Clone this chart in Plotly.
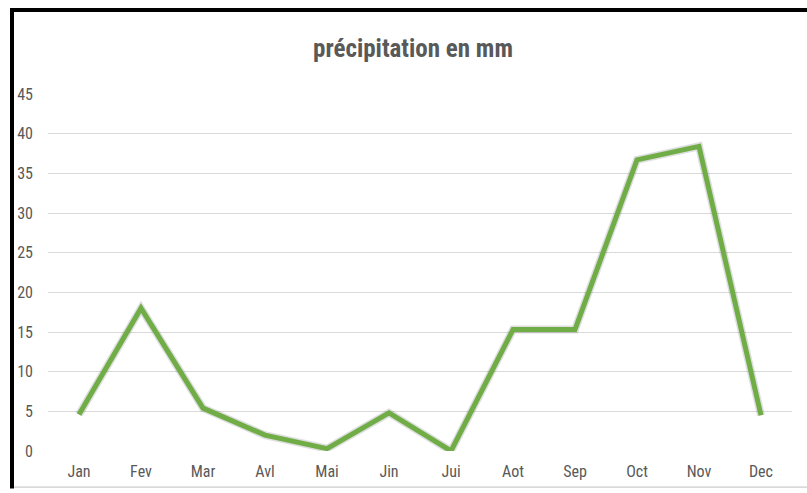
import plotly.graph_objects as go

# monthly rainfall
months = ['Jan', 'Fev', 'Mar', 'Avl', 'Mai', 'Jin', 'Jui', 'Aot', 'Sep', 'Oct', 'Nov', 'Dec']
precip_mm = [4.6, 18.0, 5.4, 2.0, 0.3, 4.8, 0.0, 15.3, 15.3, 36.7, 38.4, 4.5]
y_ticks = [0, 5, 10, 15, 20, 25, 30, 35, 40, 45]

W, H = 807, 493
L, R, T, B = 48, 15, 94, 38
plot_w = W - L - R
plot_h = H - T - B


def px_x(px):
    return (px - L) / plot_w


def px_y(py):
    return (H - B - py) / plot_h


font_fam = 'Roboto Condensed, Open Sans, sans-serif'
grey_txt = '#595959'

fig = go.Figure()

# soft shadow under the main line
fig.add_trace(go.Scatter(
    x=months, y=precip_mm, mode='lines',
    line=dict(color='rgba(0,0,0,0.13)', width=8),
    hoverinfo='skip', showlegend=False, cliponaxis=False
))
fig.add_trace(go.Scatter(
    x=months, y=precip_mm, mode='lines',
    name='précipitation en mm',
    line=dict(color='#70AD47', width=5),
    showlegend=False, cliponaxis=False
))

fig.update_layout(
    width=W, height=H,
    margin=dict(l=L, r=R, t=T, b=B),
    paper_bgcolor='white', plot_bgcolor='white',
    title=dict(text='<b>précipitation en mm</b>', x=px_x(413), xref='paper', xanchor='center',
               y=1 - 48 / H, yanchor='middle',
               font=dict(family=font_fam, size=25, color=grey_txt)),
    xaxis=dict(
        type='category', range=[-0.5, 11.5], showgrid=False, zeroline=False,
        showline=False, ticks='', ticklabelstandoff=9,
        tickfont=dict(family=font_fam, size=16, color=grey_txt)
    ),
    yaxis=dict(
        range=[0, 45], tickvals=y_ticks, showgrid=True, gridcolor='#d9d9d9',
        gridwidth=1, zeroline=False, showline=False, ticks='',
        ticklabelstandoff=14,
        tickfont=dict(family=font_fam, size=16, color=grey_txt)
    ),
    shapes=[
        # black frame (top and left) and faint bottom rule
        dict(type='line', xref='paper', yref='paper', x0=px_x(10), x1=px_x(807),
             y0=px_y(9), y1=px_y(9), line=dict(color='black', width=4)),
        dict(type='line', xref='paper', yref='paper', x0=px_x(12), x1=px_x(12),
             y0=px_y(7), y1=px_y(493), line=dict(color='black', width=4)),
        dict(type='line', xref='paper', yref='paper', x0=px_x(14), x1=px_x(807),
             y0=px_y(491.5), y1=px_y(491.5), line=dict(color='#bfbfbf', width=1)),
    ],
)

fig.write_html('out.html', config={'displayModeBar': False},
               post_script="document.body.style.margin='0';"
                           "document.body.style.overflow='hidden';"
                           "document.documentElement.style.overflow='hidden';")
